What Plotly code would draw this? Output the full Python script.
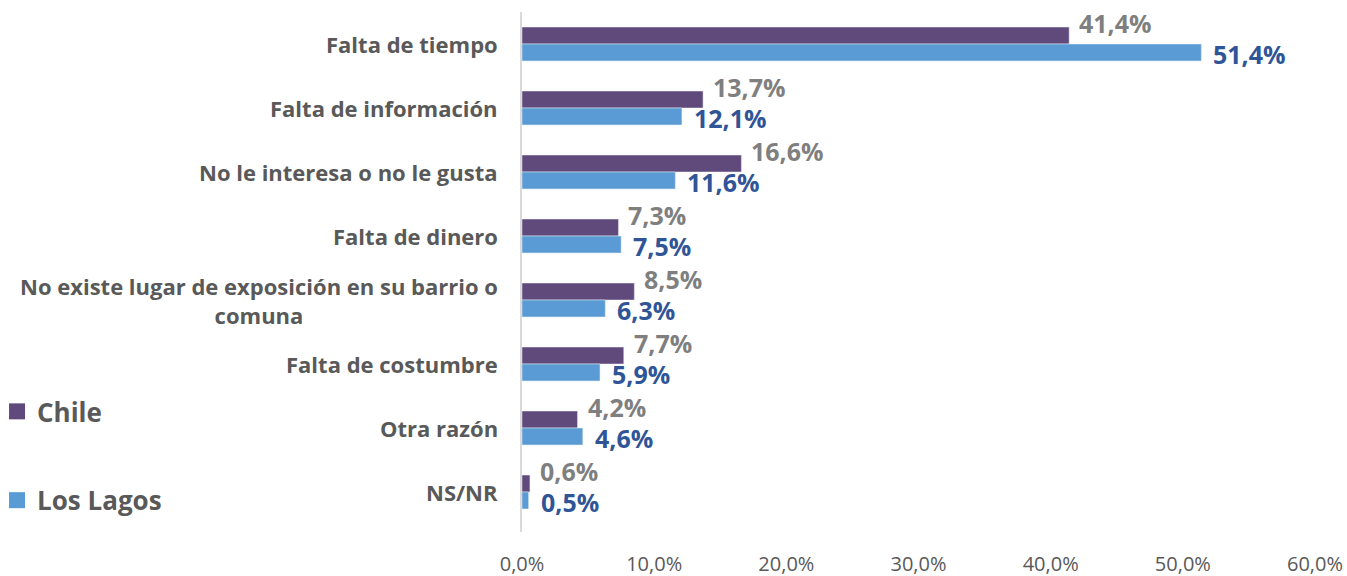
import plotly.graph_objects as go

categories = ["Falta de tiempo", "Falta de información", "No le interesa o no le gusta",
              "Falta de dinero", "No existe lugar de exposición en su barrio o<br>comuna",
              "Falta de costumbre", "Otra razón", "NS/NR"]
chile = [41.4, 13.7, 16.6, 7.3, 8.5, 7.7, 4.2, 0.6]
los_lagos = [51.4, 12.1, 11.6, 7.5, 6.3, 5.9, 4.6, 0.5]
series_names = ["Chile", "Los Lagos"]
tick_vals = [0, 10, 20, 30, 40, 50, 60]
tick_text = ["0,0%", "10,0%", "20,0%", "30,0%", "40,0%", "50,0%", "60,0%"]

FONT = "Open Sans"
C_CHILE = "#604A7B"
C_LL = "#5B9BD5"

def fmt(v):
    return f"{v:.1f}".replace(".", ",") + "%"

fig = go.Figure()
fig.add_trace(go.Bar(y=categories, x=chile, orientation="h", name=series_names[0],
                     marker_color=C_CHILE, showlegend=False))
fig.add_trace(go.Bar(y=categories, x=los_lagos, orientation="h", name=series_names[1],
                     marker_color=C_LL, showlegend=False))
# legend entries with larger square swatches
for nm, col, grp in [(series_names[0], C_CHILE, "a"), (series_names[1], C_LL, "b")]:
    fig.add_trace(go.Scatter(x=[None], y=[None], mode="markers", name=f"<b>{nm}</b>",
                             marker=dict(symbol="square", size=18, color=col),
                             legendgroup=grp, showlegend=True, hoverinfo="skip"))

ann = []
for c, v1, v2 in zip(categories, chile, los_lagos):
    ann.append(dict(x=v1, y=c, xref="x", yref="y", text=f"<b>{fmt(v1)}</b>", showarrow=False,
                    xanchor="left", yanchor="middle", xshift=8, yshift=21,
                    font=dict(family=FONT, size=25, color="#7F7F7F")))
    ann.append(dict(x=v2, y=c, xref="x", yref="y", text=f"<b>{fmt(v2)}</b>", showarrow=False,
                    xanchor="left", yanchor="middle", xshift=10, yshift=-10,
                    font=dict(family=FONT, size=25, color="#2F5597")))
    ann.append(dict(x=0, y=c, xref="x", yref="y", text=f"<b>{c}</b>", showarrow=False,
                    xanchor="right", yanchor="middle", xshift=-22, align="center",
                    font=dict(family=FONT, size=22, color="#595959")))

fig.update_layout(
    width=1347, height=576,
    margin=dict(l=522, r=32, t=12, b=44, autoexpand=False),
    paper_bgcolor="white", plot_bgcolor="white",
    barmode="group", bargap=0.47, bargroupgap=0,
    separators=",.",
    showlegend=True,
    legend=dict(x=-0.662, xanchor="left", y=0.277, yanchor="top",
                font=dict(family=FONT, size=26, color="#595959"),
                tracegroupgap=52, traceorder="grouped", bgcolor="rgba(0,0,0,0)",
                itemclick=False),
    annotations=ann,
    xaxis=dict(range=[0, 60], tickvals=tick_vals, ticktext=tick_text, showgrid=False,
               zeroline=False, showline=False, ticks="", ticklabelstandoff=18,
               tickfont=dict(family=FONT, size=20, color="#595959")),
    yaxis=dict(autorange="reversed", showticklabels=False, showgrid=False, zeroline=False,
               showline=True, linecolor="#D9D9D9", linewidth=2, ticks=""),
)
# remove the browser's default 8px body margin so the figure fills the window exactly
fig.write_html("out.html", config={"displayModeBar": False},
               post_script="document.body.style.margin='0';document.body.style.overflow='hidden';")
